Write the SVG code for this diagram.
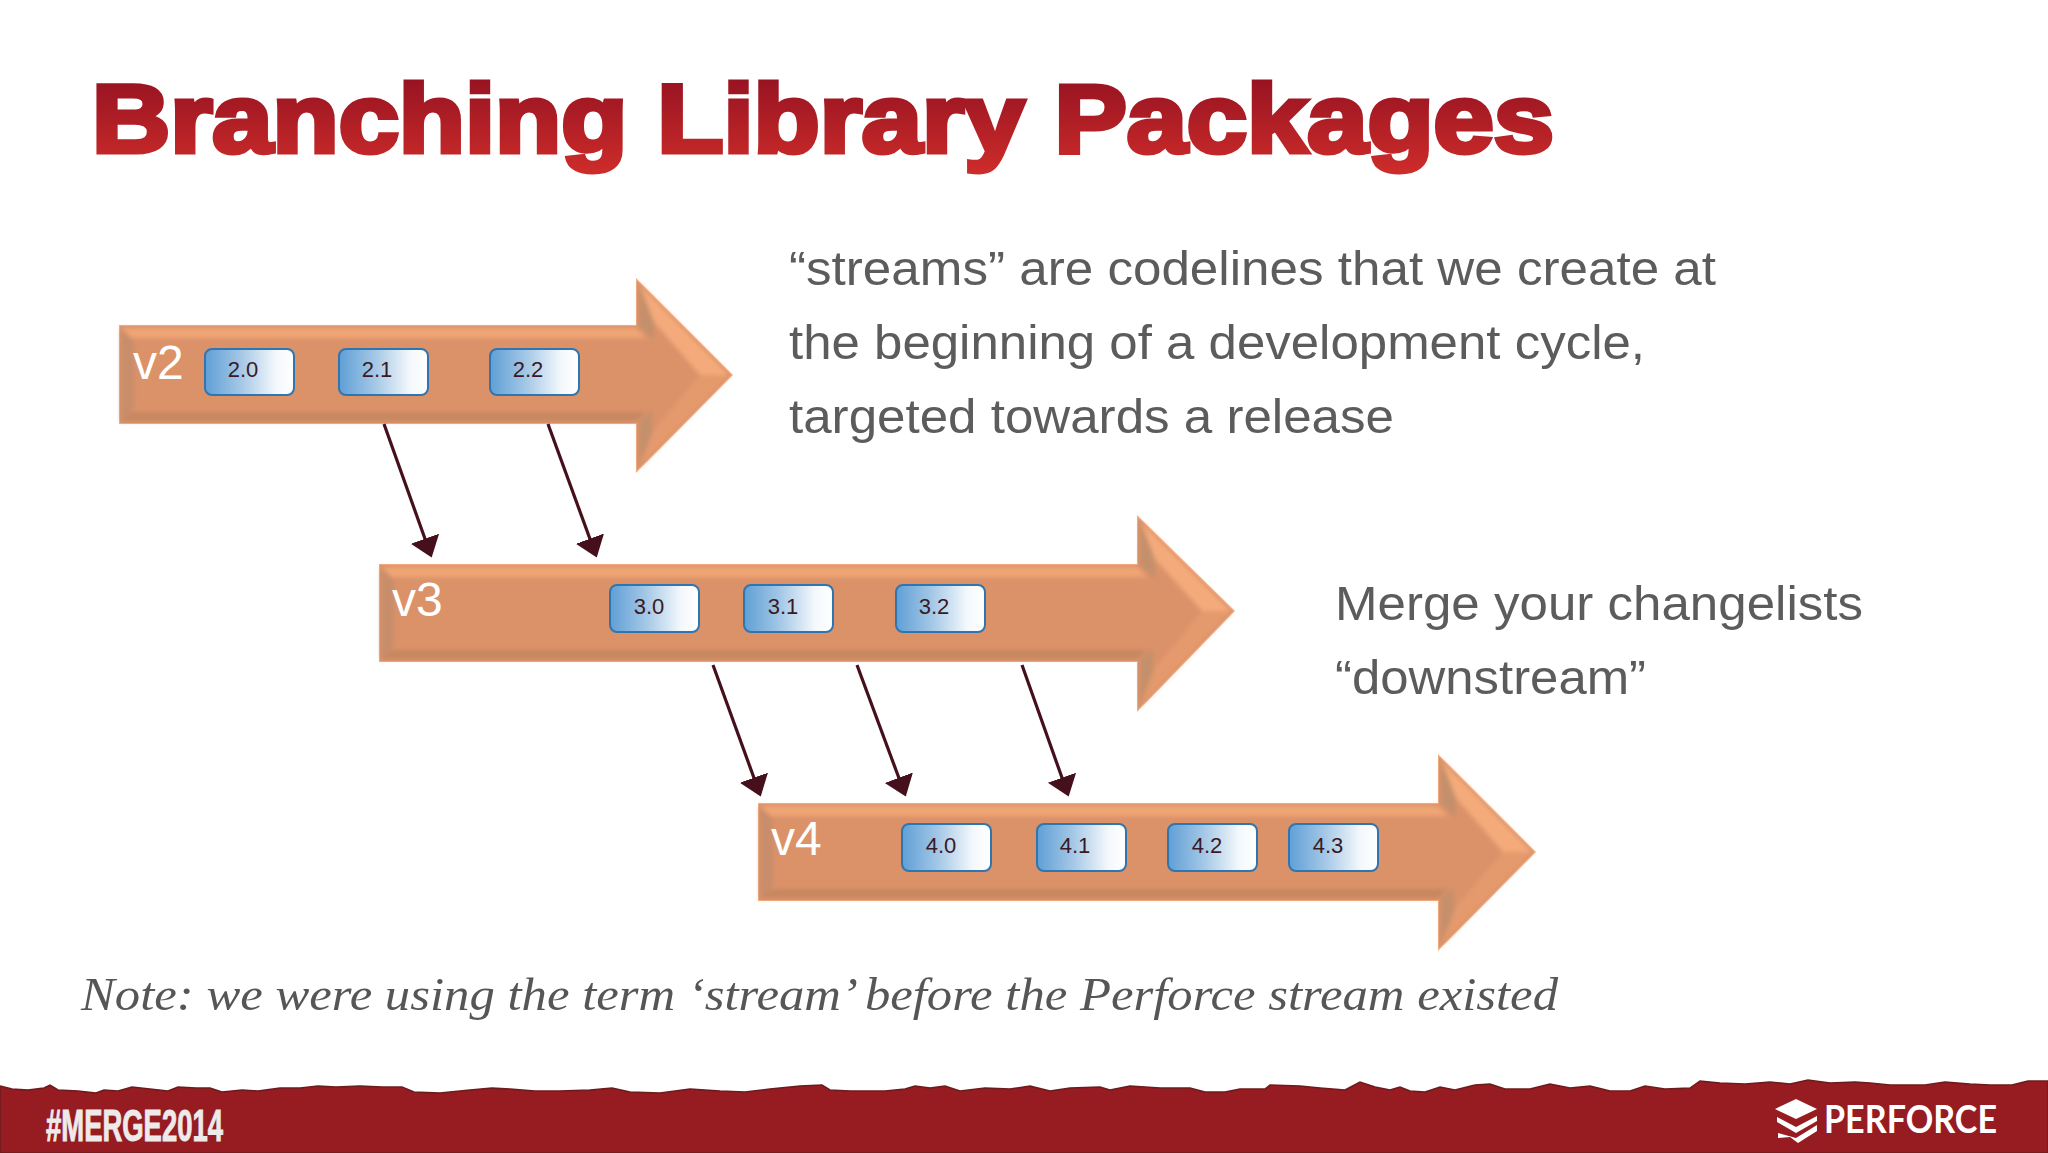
<svg xmlns="http://www.w3.org/2000/svg" width="2048" height="1153" viewBox="0 0 2048 1153">
<style>
.s{font-family:"Liberation Sans",Arial,sans-serif;fill:#5c5c5c;font-size:49px}
.vl{font-family:"Liberation Sans",Arial,sans-serif;fill:#fff;font-size:48px}
.bx{fill:url(#box);stroke:#2f75b0;stroke-width:2}
.bt{font-family:"Liberation Sans",Arial,sans-serif;fill:#3a1a22;font-size:22px;text-anchor:middle}
.edge{fill:#f2ab80}.base{fill:#db9269}.top{fill:#f0a575}.bot{fill:#c78760}.lef{fill:#c88d6a}.hd{fill:#e59a6d}.hu{fill:#f4aa7a}.hback{fill:#c4906c}
.c{stroke:#45101c;stroke-width:3.2;fill:none;marker-end:url(#ah)}
</style>
<defs>
<linearGradient id="box" x1="0" x2="1" y1="0" y2="0"><stop offset="0" stop-color="#5f9fd6"/><stop offset=".4" stop-color="#a3c7e6"/><stop offset=".8" stop-color="#f4f8fc"/><stop offset="1" stop-color="#fff"/></linearGradient>
<linearGradient id="tt" x1="0" x2="0" y1="0" y2="1"><stop offset="0" stop-color="#8e0f20"/><stop offset="1" stop-color="#cd2c2a"/></linearGradient>
<marker id="ah" markerUnits="userSpaceOnUse" markerWidth="22" markerHeight="32" refX="12" refY="16" orient="auto"><path d="M0 1L20 16L0 31z" fill="#45101c"/></marker>
<filter id="soft" x="-5%" y="-5%" width="110%" height="110%"><feGaussianBlur stdDeviation="2.2"/></filter>
<filter id="tiny"><feGaussianBlur stdDeviation=".6"/></filter>
</defs>
<rect width="2048" height="1153" fill="#fff"/>
<text x="92" y="151.5" font-family="'Liberation Sans',Arial,sans-serif" font-weight="700" font-size="97" fill="url(#tt)" stroke="url(#tt)" stroke-width="5" textLength="1462" lengthAdjust="spacingAndGlyphs">Branching Library Packages</text>

<text class="s" x="789" y="285" textLength="927" lengthAdjust="spacingAndGlyphs">“streams” are codelines that we create at</text>
<text class="s" x="789" y="359" textLength="856" lengthAdjust="spacingAndGlyphs">the beginning of a development cycle,</text>
<text class="s" x="789" y="433" textLength="605" lengthAdjust="spacingAndGlyphs">targeted towards a release</text>
<text class="s" x="1335" y="620" textLength="528" lengthAdjust="spacingAndGlyphs">Merge your changelists</text>
<text class="s" x="1335" y="694" textLength="311" lengthAdjust="spacingAndGlyphs">“downstream”</text>

<g id="v2">
<polygon class="edge" filter="url(#tiny)" points="119,325 636,325 636,278 733,375 636,473 636,424 119,424"/>
<polygon class="base" points="120,326 637,326 637,281 731,375 637,470 637,423 120,423"/>
<g filter="url(#soft)">
<polygon class="top" points="121,328 636,328 646,338 131,338"/>
<polygon class="bot" points="121,421 636,421 646,412 131,412"/>
<polygon class="lef" points="121,328 134,341 134,408 121,421"/>
<polygon class="hback" points="639,326 639,284 654,318 654,340"/>
<polygon class="hback" points="639,422 639,466 652,434 652,410"/>
<polygon class="hu" points="640,285 729,375 700,375 654,322"/>
<polygon class="hd" points="640,466 729,375 700,375 654,430"/>
</g>
<text class="vl" x="133" y="379">v2</text>
<g id="b20"><rect class="bx" x="205" y="349" width="89" height="46" rx="7"/><text class="bt" x="243" y="377">2.0</text></g>
<g id="b21"><rect class="bx" x="339" y="349" width="89" height="46" rx="7"/><text class="bt" x="377" y="377">2.1</text></g>
<g id="b22"><rect class="bx" x="490" y="349" width="89" height="46" rx="7"/><text class="bt" x="528" y="377">2.2</text></g>
</g>

<g id="v3">
<polygon class="edge" filter="url(#tiny)" points="379,564 1137,564 1137,515 1235,611 1137,712 1137,662 379,662"/>
<polygon class="base" points="380,565 1138,565 1138,518 1233,611 1138,709 1138,661 380,661"/>
<g filter="url(#soft)">
<polygon class="top" points="381,567 1137,567 1147,577 391,577"/>
<polygon class="bot" points="381,659 1137,659 1147,650 391,650"/>
<polygon class="lef" points="381,567 394,580 394,646 381,659"/>
<polygon class="hback" points="1140,565 1140,521 1155,555 1155,579"/>
<polygon class="hback" points="1140,660 1140,705 1153,672 1153,648"/>
<polygon class="hu" points="1141,522 1231,611 1202,611 1155,559"/>
<polygon class="hd" points="1141,705 1231,611 1202,611 1155,668"/>
</g>
<text class="vl" x="392" y="616">v3</text>
<g id="b30"><rect class="bx" x="610" y="585" width="89" height="47" rx="7"/><text class="bt" x="649" y="614">3.0</text></g>
<g id="b31"><rect class="bx" x="744" y="585" width="89" height="47" rx="7"/><text class="bt" x="783" y="614">3.1</text></g>
<g id="b32"><rect class="bx" x="896" y="585" width="89" height="47" rx="7"/><text class="bt" x="934" y="614">3.2</text></g>
</g>

<g id="v4">
<polygon class="edge" filter="url(#tiny)" points="758,803 1438,803 1438,754 1536,852 1438,951 1438,901 758,901"/>
<polygon class="base" points="759,804 1439,804 1439,757 1534,852 1439,948 1439,900 759,900"/>
<g filter="url(#soft)">
<polygon class="top" points="760,806 1438,806 1448,816 770,816"/>
<polygon class="bot" points="760,898 1438,898 1448,889 770,889"/>
<polygon class="lef" points="760,806 773,819 773,885 760,898"/>
<polygon class="hback" points="1441,804 1441,760 1456,794 1456,818"/>
<polygon class="hback" points="1441,899 1441,944 1454,911 1454,887"/>
<polygon class="hu" points="1442,761 1532,852 1503,852 1456,798"/>
<polygon class="hd" points="1442,944 1532,852 1503,852 1456,907"/>
</g>
<text class="vl" x="771" y="855">v4</text>
<g id="b40"><rect class="bx" x="902" y="824" width="89" height="47" rx="7"/><text class="bt" x="941" y="853">4.0</text></g>
<g id="b41"><rect class="bx" x="1037" y="824" width="89" height="47" rx="7"/><text class="bt" x="1075" y="853">4.1</text></g>
<g id="b42"><rect class="bx" x="1168" y="824" width="89" height="47" rx="7"/><text class="bt" x="1207" y="853">4.2</text></g>
<g id="b43"><rect class="bx" x="1289" y="824" width="89" height="47" rx="7"/><text class="bt" x="1328" y="853">4.3</text></g>
</g>

<g id="connectors">
<path class="c" d="M384 424L429 550"/>
<path class="c" d="M548 424L594 550"/>
<path class="c" d="M713 665L758 789"/>
<path class="c" d="M857 665L903 789"/>
<path class="c" d="M1022 665L1066 789"/>
</g>

<text x="81" y="1010" font-family="'Liberation Serif','Times New Roman',serif" font-style="italic" font-size="47" fill="#565656" textLength="1477" lengthAdjust="spacingAndGlyphs">Note: we were using the term ‘stream’ before the Perforce stream existed</text>

<g id="footer">
<path filter="url(#tiny)" d="M0 1086L12 1089 28 1090 44 1088 50 1085 58 1090 78 1091 96 1093 104 1090 118 1091 132 1087 150 1089 168 1091 178 1087 196 1088 210 1088 222 1092 242 1090 258 1091 280 1088 300 1088 318 1086 336 1087 360 1086 382 1087 402 1087 414 1092 440 1093 470 1090 492 1088 510 1089 535 1091 560 1091 590 1090 612 1088 630 1092 660 1093 690 1089 720 1091 745 1092 770 1089 800 1086 822 1085 830 1090 850 1091 885 1091 905 1089 915 1086 930 1088 945 1086 960 1091 985 1088 1010 1089 1030 1086 1050 1091 1070 1088 1100 1087 1110 1090 1130 1086 1160 1088 1190 1088 1205 1092 1225 1092 1240 1089 1265 1089 1270 1085 1300 1086 1320 1088 1345 1090 1360 1082 1375 1087 1390 1090 1400 1087 1410 1091 1425 1092 1440 1087 1455 1090 1475 1085 1490 1084 1505 1089 1530 1089 1550 1084 1570 1088 1590 1086 1610 1091 1630 1091 1645 1086 1665 1089 1690 1088 1700 1081 1720 1083 1745 1084 1770 1082 1790 1084 1808 1080 1830 1083 1855 1082 1870 1083 1890 1085 1925 1085 1945 1082 1970 1084 1990 1085 2012 1085 2028 1081 2048 1081L2048 1153 0 1153z" fill="#961a22" stroke="#6d1b1e" stroke-width="1.5"/>
<text x="46" y="1141" font-family="'Liberation Sans',Arial,sans-serif" font-weight="700" font-size="45" fill="#eeeaea" stroke="#eeeaea" stroke-width="1" textLength="177" lengthAdjust="spacingAndGlyphs">#MERGE2014</text>
<path d="M1796 1099L1817 1109 1796 1119 1775 1109zM1777 1117L1796 1127 1817 1116 1817 1121 1796 1133 1777 1122zM1778 1133L1796 1138 1817 1125 1817 1131 1798 1143 1790 1137 1778 1138z" fill="#fff"/>
<text x="1824" y="1133" font-family="Lato,'Open Sans',sans-serif" font-weight="700" font-size="38" fill="#fff" textLength="173" lengthAdjust="spacingAndGlyphs">PERFORCE</text>
</g>
</svg>
